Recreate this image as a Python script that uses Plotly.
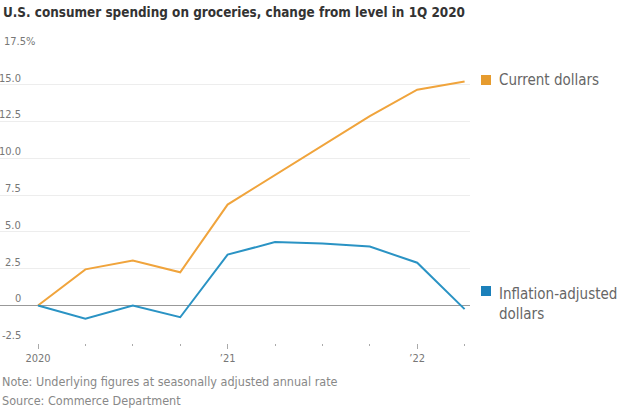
import plotly.graph_objects as go

quarters = ["2020Q1", "2020Q2", "2020Q3", "2020Q4", "2021Q1", "2021Q2", "2021Q3", "2021Q4", "2022Q1", "2022Q2"]
current_dollars = [0.0, 2.45, 3.05, 2.25, 6.85, 8.85, 10.85, 12.85, 14.65, 15.2]
inflation_adjusted = [0.0, -0.9, 0.0, -0.8, 3.45, 4.3, 4.2, 4.0, 2.9, -0.25]
x_tick_vals = [0, 4, 8]
x_tick_labels = ["2020", "\u201921", "\u201922"]
y_ticks = [-2.5, 0, 2.5, 5.0, 7.5, 10.0, 12.5, 15.0, 17.5]
y_tick_labels = ["-2.5", "0", "2.5", "5.0", "7.5", "10.0", "12.5", "15.0", "17.5%"]

ORANGE = "#f0a43c"
BLUE = "#2a93c4"
ORANGE_SQ = "#e69b2e"
BLUE_SQ = "#1b80ba"
FONT = "Liberation Sans Narrow, DejaVu Sans Condensed, Liberation Sans, sans-serif"

xi = list(range(len(quarters)))

fig = go.Figure()
fig.add_trace(go.Scatter(x=xi, y=current_dollars, mode="lines", name="Current dollars",
                         line=dict(color=ORANGE, width=2), hoverinfo="skip"))
fig.add_trace(go.Scatter(x=xi, y=inflation_adjusted, mode="lines", name="Inflation-adjusted dollars",
                         line=dict(color=BLUE, width=2), hoverinfo="skip"))

W, H = 634, 410
L, R, T, B = 0, 164, 47, 67
plot_w = W - L - R
plot_h = H - T - B
px_per_q = 47.4
x0 = -38 / px_per_q
x1 = x0 + plot_w / px_per_q


def py(p):
    return (H - B - p) / plot_h


fig.update_layout(
    width=W, height=H,
    margin=dict(l=L, r=R, t=T, b=B),
    paper_bgcolor="white", plot_bgcolor="white",
    showlegend=False,
    font=dict(family=FONT, color="#777"),
    xaxis=dict(range=[x0, x1], tickvals=x_tick_vals, ticktext=x_tick_labels,
               ticks="outside", ticklen=5, tickwidth=1, tickcolor="#aaa",
               minor=dict(tickvals=xi, ticks="outside", ticklen=2, tickcolor="#aaa", showgrid=False),
               showgrid=False, zeroline=False, showline=False, fixedrange=True,
               tickfont=dict(size=11, color="#777", family=FONT)),
    yaxis=dict(range=[-2.55, 17.55], tickvals=y_ticks, showticklabels=False,
               showgrid=True, gridcolor="#ededed", gridwidth=1, fixedrange=True,
               zeroline=True, zerolinecolor="#999", zerolinewidth=1.5, showline=False),
)

# y tick labels above gridlines
for v, t in zip(y_ticks, y_tick_labels):
    if t.endswith("%"):
        fig.add_annotation(x=2 / plot_w, xref="paper", y=v, yref="y", text=t, showarrow=False,
                           xanchor="left", yanchor="bottom", yshift=-2, font=dict(size=11, color="#777"))
    else:
        fig.add_annotation(x=23 / plot_w, xref="paper", y=v, yref="y", text=t, showarrow=False,
                           xanchor="right", yanchor="bottom", yshift=-2, font=dict(size=11, color="#777"))


def sq(color, y_top_px):
    fig.add_shape(type="rect", xref="paper", yref="paper",
                  x0=481 / plot_w, x1=491 / plot_w,
                  y0=py(y_top_px + 10), y1=py(y_top_px),
                  fillcolor=color, line=dict(width=0))


sq(ORANGE_SQ, 75)
sq(BLUE_SQ, 286)
fig.add_annotation(x=497 / plot_w, xref="paper", y=py(80), yref="paper",
                   text="Current dollars", showarrow=False, xanchor="left", yanchor="middle",
                   font=dict(size=15, color="#666"))
fig.add_annotation(x=497 / plot_w, xref="paper", y=py(283), yref="paper",
                   text="Inflation-adjusted<br>dollars", showarrow=False, xanchor="left", yanchor="top",
                   align="left", font=dict(size=15, color="#666"))

# title and notes
fig.add_annotation(x=1 / plot_w, xref="paper", y=py(13), yref="paper",
                   text="<b>U.S. consumer spending on groceries, change from level in 1Q 2020</b>",
                   showarrow=False, xanchor="left", yanchor="middle",
                   font=dict(size=13.4, color="#333"))
fig.add_annotation(x=0 / plot_w, xref="paper", y=py(381), yref="paper",
                   text="Note: Underlying figures at seasonally adjusted annual rate",
                   showarrow=False, xanchor="left", yanchor="middle", font=dict(size=12.5, color="#888"))
fig.add_annotation(x=0 / plot_w, xref="paper", y=py(400), yref="paper",
                   text="Source: Commerce Department",
                   showarrow=False, xanchor="left", yanchor="middle", font=dict(size=12.5, color="#888"))

fig.write_html("out.html", config={"displayModeBar": False, "staticPlot": True},
               post_script="document.body.style.margin='0';")
